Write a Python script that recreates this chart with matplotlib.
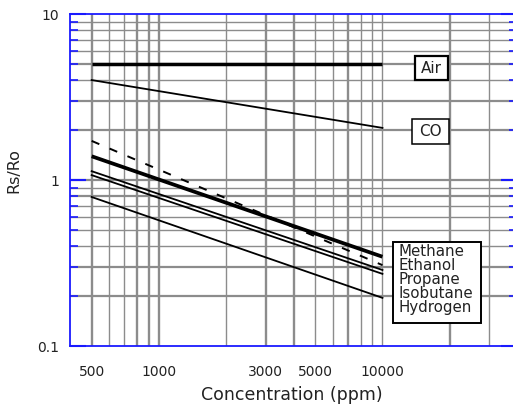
import matplotlib
matplotlib.use("Agg")
import matplotlib.pyplot as plt
from matplotlib.patches import Rectangle
from matplotlib.ticker import FixedLocator, NullFormatter, FixedFormatter

# ---- data ----
conc = [500, 10000]
air = [5.0, 5.0]
co = [4.0, 2.06]
methane = [1.39, 0.345]
ethanol = [1.72, 0.307]
propane = [1.13, 0.287]
isobutane = [1.07, 0.272]
hydrogen = [0.79, 0.195]
legend_names = ["Methane", "Ethanol", "Propane", "Isobutane", "Hydrogen"]
x_tick_vals = [500, 1000, 3000, 5000, 10000]
x_tick_labels = ["500", "1000", "3000", "5000", "10000"]
y_tick_vals = [0.1, 1, 10]
y_tick_labels = ["0.1", "1", "10"]

W, H = 513, 408
plt.rcParams['font.family'] = ['DejaVu Sans']
plt.rcParams['lines.scale_dashes'] = False

fig = plt.figure(figsize=(W / 100, H / 100), dpi=100)

def fx(x):
    return x / W

def fy(y):
    return 1 - y / H

L, T, R, B = 70, 14, 517, 346
ax = fig.add_axes([fx(L), fy(B), (R - L) / W, (B - T) / H])
ax.set_xscale('log')
ax.set_yscale('log')
ax.set_xlim(400, 40000)
ax.set_ylim(0.1, 10)

blue = '#1a1aff'
grid_c = '#8c8c8c'

# grid lines
vthick = [500, 800, 900, 1000, 3000, 4000, 7000, 20000]
vthin = [600, 700, 2000, 5000, 6000, 8000, 9000, 10000, 30000]
for v in vthick:
    ax.axvline(v, color=grid_c, lw=1.7, zorder=1)
for v in vthin:
    ax.axvline(v, color=grid_c, lw=1.0, zorder=1)
hthick = [5, 3, 2, 1, 0.8, 0.3, 0.2]
hthin = [9, 8, 7, 6, 4, 0.9, 0.7, 0.6, 0.5, 0.4]
for h in hthick:
    ax.axhline(h, color=grid_c, lw=1.6, zorder=1)
for h in hthin:
    ax.axhline(h, color=grid_c, lw=1.0, zorder=1)

# data lines
ax.plot(conc, air, color='black', lw=2.5, zorder=3, solid_capstyle='butt')
ax.plot(conc, co, color='black', lw=1.3, zorder=3)
ax.plot(conc, methane, color='black', lw=2.7, zorder=3, solid_capstyle='butt')
ax.plot(conc, ethanol, color='black', lw=1.4, zorder=3, linestyle=(0, (6, 8)))
ax.plot(conc, propane, color='black', lw=1.3, zorder=3)
ax.plot(conc, isobutane, color='black', lw=1.3, zorder=3)
ax.plot(conc, hydrogen, color='black', lw=1.3, zorder=3)

# spines
for s in ['left', 'bottom', 'top']:
    ax.spines[s].set_color(blue)
    ax.spines[s].set_linewidth(1.3)
    ax.spines[s].set_zorder(4)
ax.spines['right'].set_visible(False)

# ticks
ax.xaxis.set_major_locator(FixedLocator(x_tick_vals))
ax.xaxis.set_major_formatter(FixedFormatter(x_tick_labels))
ax.xaxis.set_minor_locator(FixedLocator([1000, 10000]))
ax.xaxis.set_minor_formatter(NullFormatter())
ax.tick_params(axis='x', which='major', length=0, pad=14, labelsize=10,
               labelcolor='#222222')
ax.tick_params(axis='x', which='minor', direction='in', length=9, width=1.6,
               color=blue, top=True, bottom=True)

ax.yaxis.set_major_locator(FixedLocator(y_tick_vals))
ax.yaxis.set_major_formatter(FixedFormatter(y_tick_labels))
minor_y = [0.2, 0.3, 0.4, 0.5, 0.6, 0.7, 0.8, 0.9, 2, 3, 4, 5, 6, 7, 8, 9]
ax.yaxis.set_minor_locator(FixedLocator(minor_y))
ax.yaxis.set_minor_formatter(NullFormatter())
ax.tick_params(axis='y', which='major', direction='in', length=11.5, width=1.5,
               color=blue, left=True, right=True, pad=8, labelsize=10,
               labelcolor='#222222')
ax.tick_params(axis='y', which='minor', direction='in', length=6, width=1.2,
               color=blue, left=True, right=True)
for t in ax.xaxis.get_ticklines(minor=True) + ax.yaxis.get_ticklines() + ax.yaxis.get_ticklines(minor=True):
    t.set_zorder(5)

# axis labels
fig.text(fx(292), fy(395), "Concentration (ppm)", ha='center', va='center',
         fontsize=12.5, color='#222222')
fig.text(fx(14), fy(171), "Rs/Ro", ha='center', va='center', rotation=90,
         fontsize=11.5, color='#222222')

# Air / CO boxes
fig.patches.append(Rectangle((fx(415), fy(80)), (448 - 415) / W, (80 - 56) / H,
                             transform=fig.transFigure, facecolor='white',
                             edgecolor='black', lw=1.6, zorder=6))
fig.text(fx(431.5), fy(68.5), "Air", ha='center', va='center', fontsize=11,
         color='#222222', zorder=7)
fig.patches.append(Rectangle((fx(412), fy(144)), (449 - 412) / W, (144 - 119) / H,
                             transform=fig.transFigure, facecolor='white',
                             edgecolor='black', lw=1.1, zorder=6))
fig.text(fx(430.5), fy(131.5), "CO", ha='center', va='center', fontsize=11,
         color='#222222', zorder=7)

# legend box
fig.patches.append(Rectangle((fx(393), fy(323)), (481 - 393) / W, (323 - 242) / H,
                             transform=fig.transFigure, facecolor='white',
                             edgecolor='black', lw=1.4, zorder=6))
for i, name in enumerate(legend_names):
    fig.text(fx(399), fy(251 + 14.1 * i), name, ha='left', va='center',
             fontsize=10.8, color='#222222', zorder=7)

fig.savefig("out.png", dpi=100)
